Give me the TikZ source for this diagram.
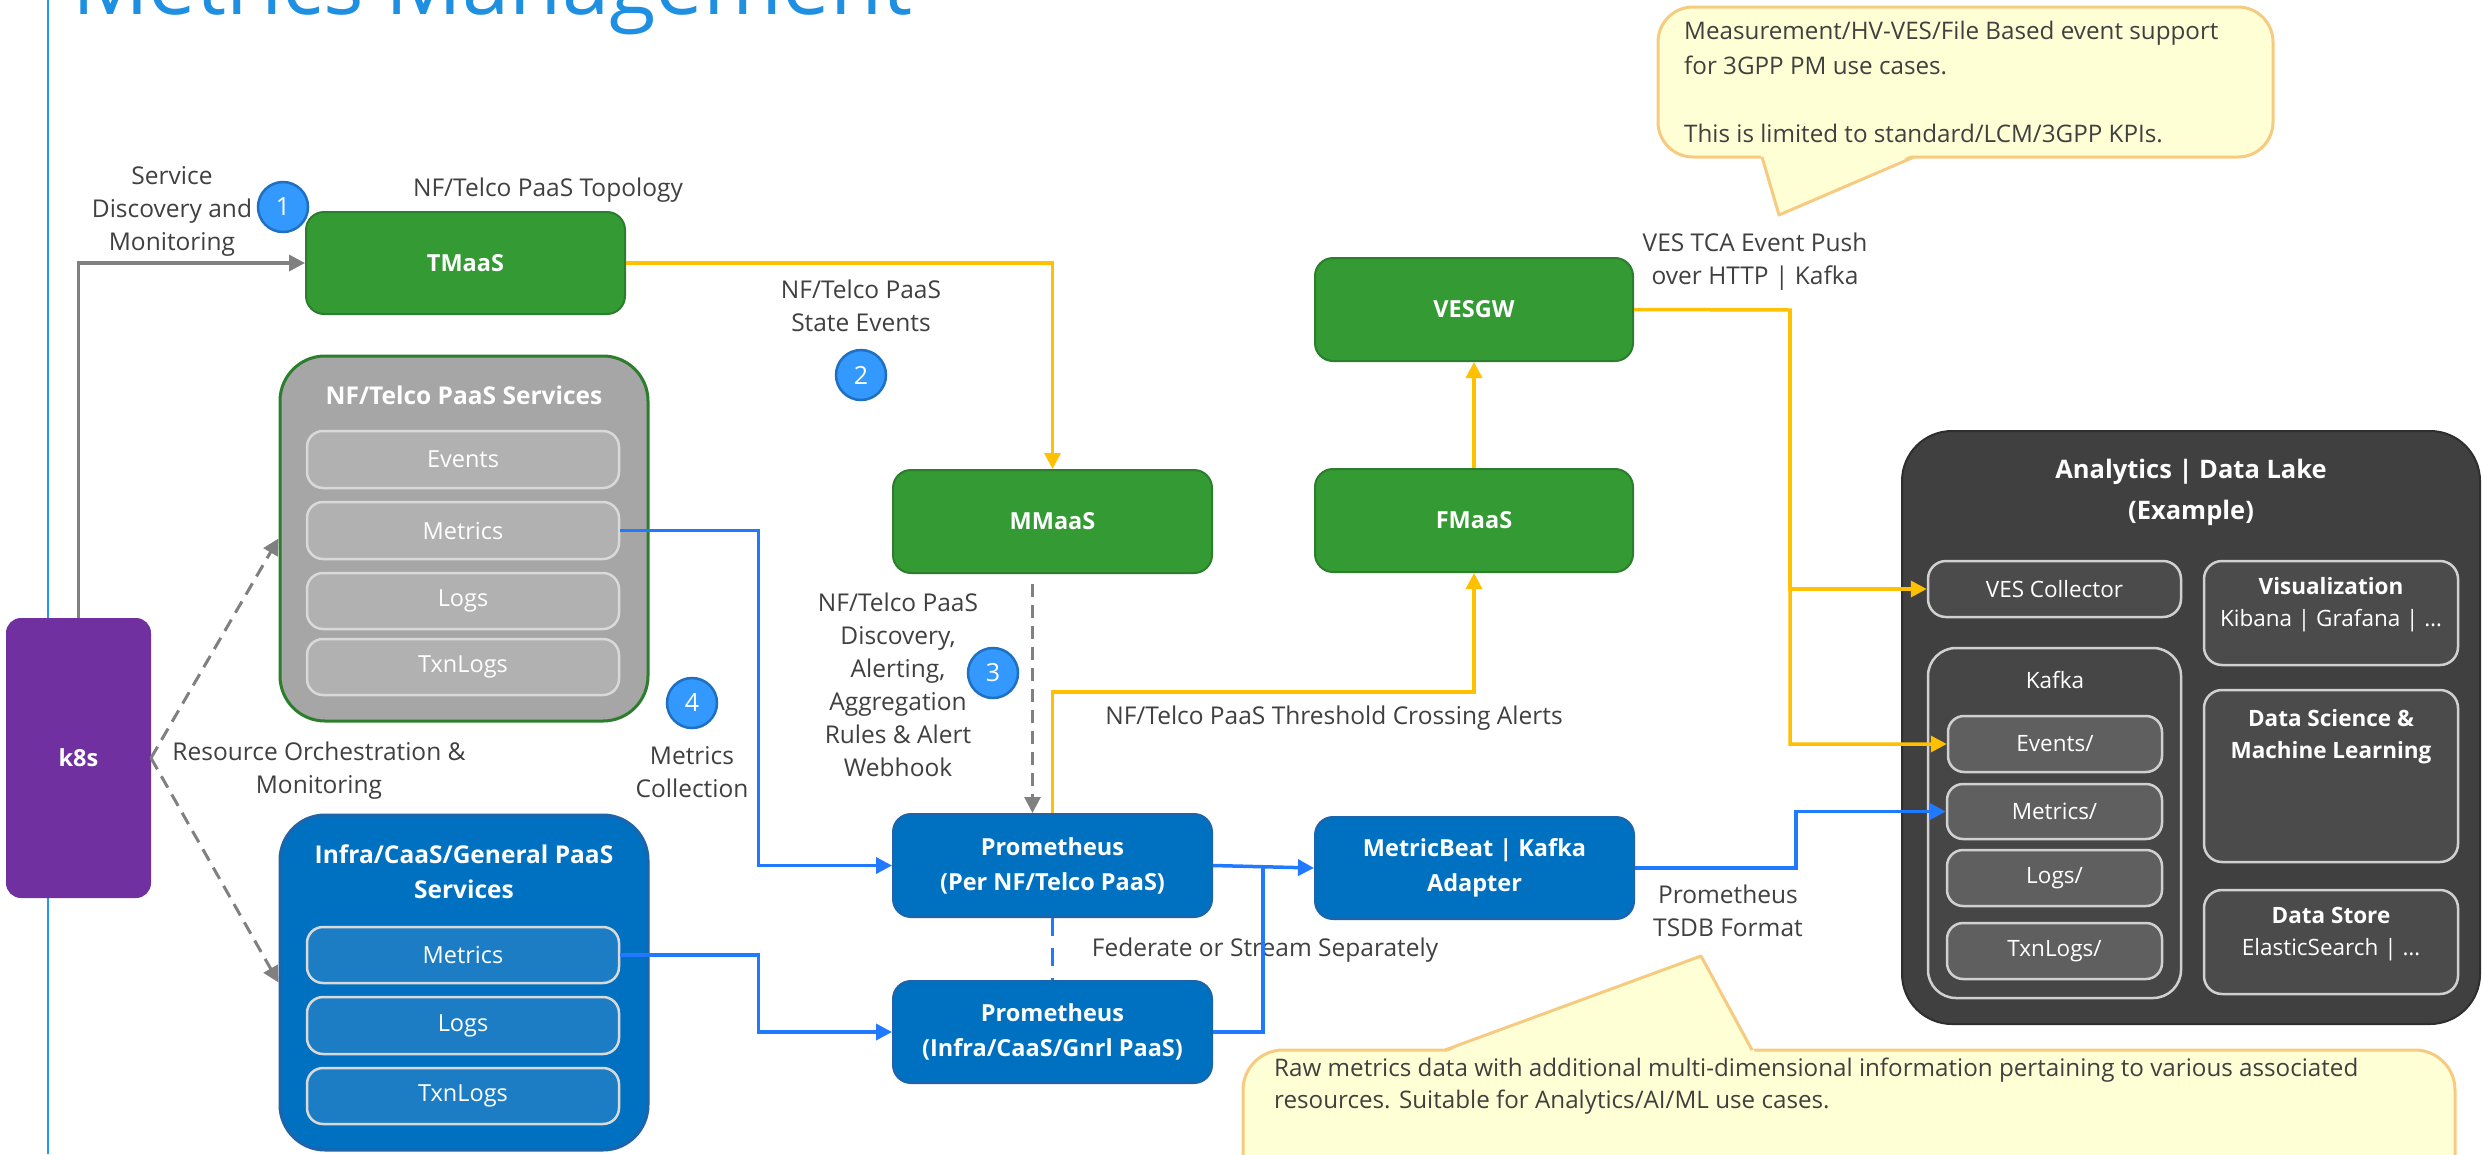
\documentclass[tikz,border=0pt]{standalone}
\usepackage{fontspec}
\setmainfont{Open Sans}
\usetikzlibrary{arrows.meta}
\definecolor{titleblue}{HTML}{1E8FE1}
\definecolor{sideblue}{HTML}{2196F3}
\definecolor{lbltext}{HTML}{404040}
\definecolor{grnfill}{HTML}{349A34}
\definecolor{grnedge}{HTML}{2C7D2C}
\definecolor{blufill}{HTML}{0070C0}
\definecolor{bluedge}{HTML}{1D64AA}
\definecolor{bluinner}{HTML}{1C7DC5}
\definecolor{purp}{HTML}{7030A0}
\definecolor{gryfill}{HTML}{A6A6A6}
\definecolor{gryinner}{HTML}{B1B1B1}
\definecolor{inedge}{HTML}{D9D9D9}
\definecolor{ylw}{HTML}{FFC000}
\definecolor{linkblue}{HTML}{2079FF}
\definecolor{linkgray}{HTML}{808080}
\definecolor{numfill}{HTML}{3399FF}
\definecolor{numedge}{HTML}{1F6FC2}
\definecolor{darkbg}{HTML}{404040}
\definecolor{darkedge}{HTML}{2E2E2E}
\definecolor{darkmid}{HTML}{4B4B4B}
\definecolor{darkkafka}{HTML}{464646}
\definecolor{darkinner}{HTML}{5F5F5F}
\definecolor{darkline}{HTML}{D0D0D0}
\definecolor{calfill}{HTML}{FFFFD5}
\definecolor{caledge}{HTML}{F6CB80}
\newcommand\placebox[7]{%
  \node[#6, minimum width={((#4)-(#2))*1pt}, minimum height={((#5)-(#3))*1pt}]
    (#1) at ({((#2)+(#4))/2},{((#3)+(#5))/2}) {#7};}
\begin{document}
\begin{tikzpicture}[x=1pt,y=-1pt,
  gbox/.style={shape=rectangle, fill=grnfill, draw=grnedge, line width=2pt, rounded corners=18pt, inner sep=0pt, align=center, text=white, font=\bfseries\fontsize{23.5}{35}\selectfont},
  bbox/.style={gbox, fill=blufill, draw=bluedge},
  k8sbox/.style={gbox, fill=purp, draw=purp, rounded corners=14pt},
  nfsbox/.style={shape=rectangle, fill=gryfill, draw=grnedge, line width=3pt, rounded corners=45pt, inner sep=0pt},
  infbox/.style={nfsbox, fill=blufill, draw=bluedge},
  ninner/.style={shape=rectangle, fill=gryinner, draw=inedge, line width=2.5pt, rounded corners=16pt, inner sep=0pt, text=white, font=\fontsize{23.5}{32}\selectfont},
  iinner/.style={ninner, fill=bluinner},
  boxtitle/.style={inner sep=0pt, align=center, text=white, font=\bfseries\fontsize{24.5}{35}\selectfont},
  anbox/.style={shape=rectangle, fill=darkbg, draw=darkedge, line width=2pt, rounded corners=50pt, inner sep=0pt},
  anmid/.style={shape=rectangle, fill=darkmid, draw=darkline, line width=2.5pt, rounded corners=18pt, inner sep=0pt, text=white, font=\fontsize{22.5}{32}\selectfont},
  ankafka/.style={anmid, fill=darkkafka, rounded corners=28pt},
  aninner/.style={anmid, fill=darkinner, rounded corners=16pt},
  antext/.style={inner sep=0pt, align=center, text=white, font=\fontsize{22.5}{32}\selectfont},
  numc/.style={circle, minimum size=50pt, inner sep=0pt, fill=numfill, draw=numedge, line width=2.5pt, text=white, font=\fontsize{25}{30}\selectfont},
  lbl/.style={text=lbltext, align=center, inner sep=0pt, font=\fontsize{24.5}{33}\selectfont},
  caltext/.style={anchor=west, inner sep=0pt, text=lbltext, font=\fontsize{24.2}{32}\selectfont},
  yline/.style={color=ylw, line width=3.5pt},
  bline/.style={color=linkblue, line width=3.5pt},
  gline/.style={color=linkgray, line width=3.5pt},
  arr/.style={-{Triangle[length=16pt,width=16pt]}},
  gdash/.style={gline, line width=3pt, dash pattern=on 13pt off 8pt},
]
\useasboundingbox (0,0) rectangle (2483,1154);
\fill[white] (0,0) rectangle (2483,1154);

% title and side rule
\node[anchor=base west, inner sep=0pt, text=titleblue, font=\fontsize{85}{90}\selectfont] (title) at (72,14) {Metrics Management};
\coordinate (ruletop) at (48,0);
\coordinate (rulebot) at (48,1154);
\draw[sideblue, line width=1.5pt] (ruletop) -- (rulebot);

% callouts
\draw[caledge, fill=calfill, line width=3pt, rounded corners=35pt] (1658,7) rectangle (2273,157);
\fill[calfill] (1760,153) -- (1779,215) -- (1916,153) -- cycle;
\draw[caledge, line width=3pt, line join=round] (1762,157) -- (1779,215) -- (1914,157);
\node[caltext] (ct1) at (1684,33) {Measurement/HV-VES/File Based event support};
\node[caltext] (ct2) at (1684,65) {for 3GPP PM use cases.};
\node[caltext] (ct3) at (1684,133) {This is limited to standard/LCM/3GPP KPIs.};

\draw[caledge, fill=calfill, line width=3pt, rounded corners=40pt] (1243,1050) rectangle (2455,1260);
\fill[calfill] (1441,1054) -- (1701,956) -- (1756,1054) -- cycle;
\draw[caledge, line width=3pt, line join=round] (1445,1050) -- (1701,956) -- (1752,1050);
\node[caltext] (cb1) at (1274,1070) {Raw metrics data with additional multi-dimensional information pertaining to various associated};
\node[caltext] (cb2) at (1274,1102) {resources. Suitable for Analytics/AI/ML use cases.};

% k8s
\placebox{k8s}{7}{619}{150}{897}{k8sbox}{k8s}

% green boxes
\placebox{tmaas}{306}{212}{625}{314}{gbox}{TMaaS}
\placebox{mmaas}{893}{470}{1212}{573}{gbox}{MMaaS}
\placebox{vesgw}{1315}{258}{1633}{361}{gbox}{VESGW}
\placebox{fmaas}{1315}{469}{1633}{572}{gbox}{FMaaS}

% blue boxes
\placebox{prom1}{893}{814}{1212}{917}{bbox}{Prometheus\\(Per NF/Telco PaaS)}
\placebox{prom2}{893}{981}{1212}{1083}{bbox}{Prometheus\\(Infra/CaaS/Gnrl PaaS)}
\placebox{mb}{1315}{817}{1634}{919}{bbox}{MetricBeat | Kafka\\Adapter}

% NF/Telco PaaS services
\placebox{nfs}{280}{356}{648}{721}{nfsbox}{}
\node[boxtitle] (nfst) at (464,395) {NF/Telco PaaS Services};
\placebox{nev}{307}{431}{619}{488}{ninner}{Events}
\placebox{nmet}{307}{502}{619}{559}{ninner}{Metrics}
\placebox{nlog}{307}{573}{619}{629}{ninner}{Logs}
\placebox{ntxn}{307}{639}{619}{695}{ninner}{TxnLogs}

% Infra services
\placebox{inf}{280}{815}{648}{1150}{infbox}{}
\node[boxtitle] (inft) at (464,872) {Infra/CaaS/General PaaS\\Services};
\placebox{imet}{307}{927}{619}{983}{iinner}{Metrics}
\placebox{ilog}{307}{997}{619}{1054}{iinner}{Logs}
\placebox{itxn}{307}{1068}{619}{1124}{iinner}{TxnLogs}

% Analytics
\placebox{an}{1902}{431}{2480}{1024}{anbox}{}
\node[boxtitle, font=\bfseries\fontsize{25.5}{41}\selectfont] (ant) at (2191,492) {Analytics | Data Lake\\(Example)};
\placebox{vescol}{1928}{561}{2181}{617}{anmid}{VES Collector}
\placebox{kafka}{1928}{648}{2181}{998}{ankafka}{}
\node[antext] (kafkat) at (2055,680) {Kafka};
\placebox{kev}{1948}{716}{2162}{772}{aninner}{Events/}
\placebox{kmet}{1947}{784}{2162}{839}{aninner}{Metrics/}
\placebox{klog}{1947}{850}{2162}{906}{aninner}{Logs/}
\placebox{ktxn}{1947}{923}{2162}{979}{aninner}{TxnLogs/}
\placebox{vis}{2204}{561}{2458}{665}{anmid}{}
\node[antext] (vist) at (2331,605) {\textbf{Visualization}\\Kibana | Grafana | …};
\placebox{dsml}{2204}{690}{2458}{862}{anmid}{}
\node[antext] (dsmlt) at (2331,737) {\textbf{Data Science \&}\\\textbf{Machine Learning}};
\placebox{store}{2204}{890}{2458}{994}{anmid}{}
\node[antext] (storet) at (2331,934) {\textbf{Data Store}\\ElasticSearch | …};

% labels
\node[lbl] (l1) at (172,211) {Service\\Discovery and\\Monitoring};
\node[lbl] (l2) at (548,190) {NF/Telco PaaS Topology};
\node[lbl] (l3) at (861,306) {NF/Telco PaaS\\State Events};
\node[lbl] (l4) at (898,685) {NF/Telco PaaS\\Discovery,\\Alerting,\\Aggregation\\Rules \& Alert\\Webhook};
\node[lbl] (l5) at (1334,718) {NF/Telco PaaS Threshold Crossing Alerts};
\node[lbl] (l6) at (1265,950) {Federate or Stream Separately};
\node[lbl] (l7) at (1728,911) {Prometheus\\TSDB Format};
\node[lbl] (l8) at (1755,262) {VES TCA Event Push\\over HTTP | Kafka};
\node[lbl] (l9) at (319,771) {Resource Orchestration \&\\Monitoring};
\node[lbl] (l10) at (692,772) {Metrics\\Collection};

% numbered circles
\node[numc] (c1) at (283,207) {1};
\node[numc] (c2) at (861,375) {2};
\node[numc] (c3) at (993,673) {3};
\node[numc] (c4) at (692,703) {4};

% connectors
\draw[gline, arr] (k8s.north) |- (tmaas.west);
\draw[gdash, arr] (k8s.east) -- (nfs.west);
\draw[gdash, arr] (k8s.east) -- (inf.west);
\draw[yline, arr] (tmaas.east) -| (mmaas.north);
\draw[gdash, arr] ([xshift=-20pt,yshift=-10pt]mmaas.south) -- ([xshift=-20pt]prom1.north);
\draw[yline, arr] (prom1.north) -- ++(0,-121) -| (fmaas.south);
\draw[yline, arr] (fmaas.north) -- (vesgw.south);
\coordinate (ysplit) at (1790,310);
\draw[yline, arr] (vesgw.east) -- (ysplit) |- (kev.west);
\draw[yline, arr] (ysplit) |- (vescol.west);
\draw[bline, arr] (nmet.east) -- ++(138,0) |- (prom1.west);
\draw[bline, arr] (imet.east) -- ++(138,0) |- (prom2.west);
\draw[bline, dash pattern=on 18pt off 12pt] (prom1.south) -- (prom2.north);
\draw[bline, arr] (prom1.east) -- (mb.west);
\coordinate (bjoin) at (1263,868);
\draw[bline] (prom2.east) -| (bjoin);
\draw[bline, arr] (mb.east) -- ++(161,0) |- (kmet.west);
\end{tikzpicture}
\end{document}
